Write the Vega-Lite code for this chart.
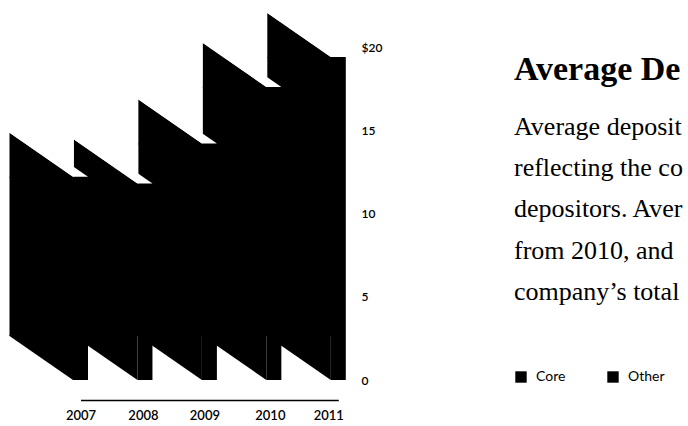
{
  "$schema": "https://vega.github.io/schema/vega-lite/v6.json",
  "autosize": {"type": "none"},
  "padding": {"left": 63, "top": 47, "right": 341, "bottom": 46},
  "width": 284,
  "height": 333,
  "background": "white",
  "config": {
    "view": {"stroke": null},
    "axis": {"labelColor": "black", "labelFont": "Lato", "labelFontSize": 12, "labelFontWeight": 600, "grid": false, "ticks": false, "title": null}
  },
  "title": {
    "text": "Average De",
    "subtitle": ["Average deposit", "reflecting the co", "depositors. Aver", "from 2010, and", "company’s total"],
    "anchor": "start",
    "frame": "group",
    "orient": "top",
    "align": "left",
    "dx": 451,
    "dy": 292,
    "offset": 0,
    "font": "Liberation Serif",
    "fontSize": 34,
    "fontWeight": "bold",
    "color": "black",
    "subtitleFont": "Liberation Serif",
    "subtitleFontSize": 26,
    "subtitleColor": "black",
    "subtitleLineHeight": 41.25,
    "subtitlePadding": 27
  },
  "data": {
    "values": [
      {"year": 2007, "deposits": 12.2},
      {"year": 2008, "deposits": 11.8},
      {"year": 2009, "deposits": 14.2},
      {"year": 2010, "deposits": 17.6},
      {"year": 2011, "deposits": 19.4}
    ]
  },
  "encoding": {
    "x": {
      "field": "year",
      "type": "ordinal",
      "scale": {"type": "point", "range": [17.5, 275.3], "padding": 0},
      "axis": {
        "orient": "bottom",
        "offset": 20,
        "domain": true,
        "domainColor": "black",
        "domainWidth": 1.5,
        "labelPadding": 9,
        "labelAngle": 0,
        "labelFontSize": 13,
        "labelOffset": {
          "condition": [
            {"test": "datum.value == 2011", "value": -10},
            {"test": "datum.value == 2009", "value": -5},
            {"test": "datum.value == 2010", "value": -4},
            {"test": "datum.value == 2008", "value": -2}
          ],
          "value": 0
        }
      }
    }
  },
  "layer": [
    {
      "mark": {"type": "bar", "color": "black", "width": 64.5, "xOffset": -38.75, "y2Offset": -44},
      "encoding": {
        "y": {
          "field": "deposits",
          "type": "quantitative",
          "scale": {"domain": [0, 20], "nice": false},
          "axis": {"orient": "right", "domain": false, "labelPadding": 14, "labelAlign": "left", "values": [0, 5, 10, 15, 20], "labelExpr": "datum.value == 20 ? '$20' : datum.label"}
        },
        "y2": {"datum": 0}
      }
    },
    {
      "mark": {"type": "point", "shape": "M -7.5 1 L -7.5 0 L -71 -44 L -71 1 Z", "size": 4, "filled": true, "color": "black", "opacity": 1, "strokeWidth": 0},
      "encoding": {"y": {"field": "deposits", "type": "quantitative"}}
    },
    {
      "mark": {"type": "point", "shape": "M -7.5 0 L -7.5 -45 L -71 -45 L -71 -44 Z", "size": 4, "filled": true, "color": "black", "opacity": 1, "strokeWidth": 0},
      "encoding": {"y": {"datum": 0}}
    },
    {
      "mark": {"type": "bar", "color": "black", "width": 15},
      "encoding": {"y": {"field": "deposits", "type": "quantitative"}}
    },
    {
      "mark": {"type": "point", "shape": "M -7.5 0 L 7.5 0 L -56 -44 L -71 -44 Z", "size": 4, "filled": true, "color": "white", "opacity": 1, "strokeWidth": 0},
      "encoding": {"y": {"field": "deposits", "type": "quantitative"}}
    },
    {
      "data": {"values": [{"series": "Core"}, {"series": "Other"}]},
      "mark": {"type": "square", "opacity": 0},
      "encoding": {
        "x": {"value": 0},
        "y": {"value": 0},
        "color": {
          "field": "series",
          "type": "nominal",
          "scale": {"domain": ["Core", "Other"], "range": ["black", "black"]},
          "legend": {
            "orient": "none",
            "legendX": 451,
            "legendY": 323,
            "direction": "horizontal",
            "title": null,
            "symbolType": "square",
            "symbolSize": 130,
            "symbolOpacity": 1,
            "symbolStrokeWidth": 0,
            "labelFont": "Lato",
            "labelFontSize": 14,
            "labelColor": "black",
            "columnPadding": 40,
            "labelOffset": 8
          }
        }
      }
    }
  ]
}
